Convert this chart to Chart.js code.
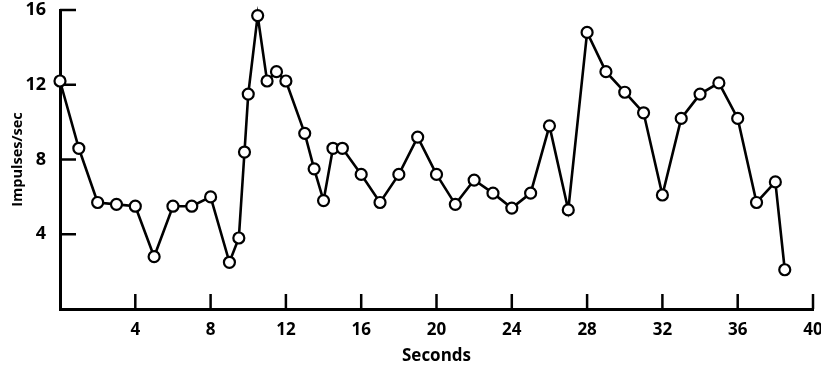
<!DOCTYPE html>
<html>
<head>
<meta charset="utf-8">
<script src="https://cdn.jsdelivr.net/npm/chart.js@4/dist/chart.umd.min.js"></script>
<style>
    html, body { margin: 0; padding: 0; background: #fff; }
    #wrap { width: 821px; height: 367px; }
</style>
</head>
<body>
<div id="wrap"><canvas id="grafico"></canvas></div>
<script>
// data
const seconds = [0, 1, 2, 3, 4, 5, 6, 7, 8, 9, 9.5, 9.8, 10, 10.5, 11, 11.5, 12, 13, 13.5, 14, 14.5, 15,
    16, 17, 18, 19, 20, 21, 22, 23, 24, 25, 26, 27, 28, 29, 30, 31, 32, 33, 34, 35, 36, 37, 38, 38.5];
const impulses = [12.2, 8.6, 5.7, 5.6, 5.5, 2.8, 5.5, 5.5, 6.0, 2.5, 3.8, 8.4, 11.5, 15.7, 12.2, 12.7, 12.2, 9.4, 7.5, 5.8, 8.6, 8.6,
    7.2, 5.7, 7.2, 9.2, 7.2, 5.6, 6.9, 6.2, 5.4, 6.2, 9.8, 5.3, 14.8, 12.7, 11.6, 10.5, 6.1, 10.2, 11.5, 12.1, 10.2, 5.7, 6.8, 2.1];
const xTicks = { min: 0, max: 40, step: 4 };
const yTicks = { min: 0, max: 16, step: 4 };

const FONT = "'Open Sans', Lato, sans-serif";

// tick marks pointing into the plot, like the printed figure
const innerTicks = {
    id: 'innerTicks',
    beforeDatasetsDraw(chart) {
        const { ctx, chartArea, scales: { x, y } } = chart;
        ctx.save();
        ctx.strokeStyle = '#000';
        ctx.lineWidth = 2.5;
        x.ticks.forEach(t => {
            if (t.value === 0) return;
            const px = x.getPixelForValue(t.value);
            ctx.beginPath();
            ctx.moveTo(px, chartArea.bottom);
            ctx.lineTo(px, chartArea.bottom - 15);
            ctx.stroke();
        });
        y.ticks.forEach(t => {
            if (t.value === 0) return;
            const py = y.getPixelForValue(t.value);
            ctx.beginPath();
            ctx.moveTo(chartArea.left, py);
            ctx.lineTo(chartArea.left + 16, py);
            ctx.stroke();
        });
        ctx.restore();
    }
};

const points = seconds.map((s, i) => ({ x: s, y: impulses[i] }));

new Chart(document.getElementById('grafico'), {
    type: 'line',
    data: {
        datasets: [{
            data: points,
            borderColor: '#000',
            borderWidth: 2.6,
            tension: 0,
            pointRadius: 5.5,
            pointBorderWidth: 2.2,
            pointBackgroundColor: '#fff',
            pointBorderColor: '#000',
            clip: false
        }]
    },
    options: {
        responsive: true,
        maintainAspectRatio: false,
        animation: false,
        layout: { padding: { top: 10, right: 8, left: 0, bottom: 0 } },
        plugins: {
            legend: { display: false },
            tooltip: { enabled: false }
        },
        scales: {
            x: {
                type: 'linear',
                min: xTicks.min,
                max: xTicks.max,
                grid: { display: false },
                border: { display: true, color: '#000', width: 3 },
                ticks: {
                    stepSize: xTicks.step,
                    color: '#000',
                    padding: 3,
                    maxRotation: 0,
                    font: { family: FONT, size: 17, weight: 'bold' },
                    callback: v => (v === 0 ? '' : v)
                },
                title: {
                    display: true,
                    text: 'Seconds',
                    color: '#000',
                    padding: { top: 0, bottom: 1 },
                    font: { family: FONT, size: 17, weight: 'bold' }
                },
                afterFit: s => { s.height = 58; s.paddingLeft = 0; s.paddingRight = 0; }
            },
            y: {
                min: yTicks.min,
                max: yTicks.max,
                grid: { display: false },
                border: { display: true, color: '#000', width: 3 },
                ticks: {
                    stepSize: yTicks.step,
                    color: '#000',
                    padding: 6,
                    font: { family: FONT, size: 18, weight: 'bold' },
                    callback: v => (v === 0 ? '' : v)
                },
                title: {
                    display: true,
                    text: 'Impulses/sec',
                    color: '#000',
                    padding: { top: 9, bottom: 0 },
                    font: { family: FONT, size: 14.5, weight: 'bold' }
                },
                afterFit: s => { s.width = 60; s.paddingTop = 0; s.paddingBottom = 0; }
            }
        }
    },
    plugins: [innerTicks]
});
</script>
</body>
</html>
